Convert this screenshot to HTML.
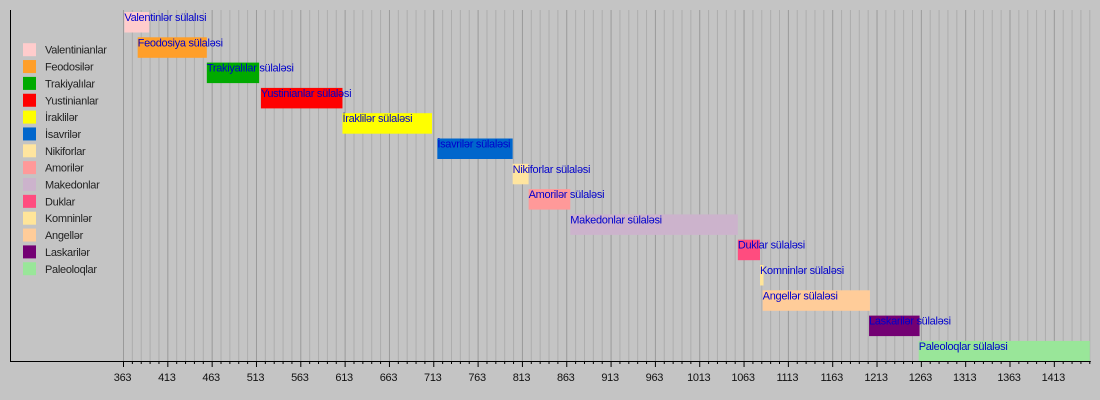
<!DOCTYPE html>
<html><head><meta charset="utf-8">
<style>
html,body{margin:0;padding:0;background:#c4c4c4;}
svg{display:block;font-family:"Liberation Sans",Arial,sans-serif;}
</style></head>
<body>
<svg id="chart" width="1100" height="400" xmlns="http://www.w3.org/2000/svg">
<rect x="0" y="0" width="1100" height="400" fill="#c4c4c4"/>
<g id="grid"></g>
<g id="bars"></g>
<g id="axis"></g>
<g id="legend"></g>
</svg>
<script>
const legendNames = ["Valentinianlar","Feodosilər","Trakiyalılar","Yustinianlar","İraklilər","İsavrilər","Nikiforlar","Amorilər","Makedonlar","Duklar","Komninlər","Angellər","Laskarilər","Paleoloqlar"];
const barLabels = ["Valentinlər sülalısi","Feodosiya sülaləsi","Trakiyalılar sülaləsi","Yustinianlar sülaləsi","İraklilər sülaləsi","İsavrilər sülaləsi","Nikiforlar sülaləsi","Amorilər sülaləsi","Makedonlar sülaləsi","Duklar sülaləsi","Komninlər sülaləsi","Angellər sülaləsi","Laskarilər sülaləsi","Paleoloqlar sülaləsi"];
const startYears = [364,379,457,518,610,717,802,820,867,1056,1081,1084,1204,1260];
const endYears = [392,457,516,610,711,802,820,867,1056,1081,1085,1205,1261,1453];
const colors = ["#ffcccc","#ff9f2a","#00aa00","#ff0000","#ffff00","#0066cc","#ffe59f","#ff9999","#ccb3cc","#ff4c7f","#ffe599","#ffcc99","#730073","#99e699"];
const tickYears = [363,413,463,513,563,613,663,713,763,813,863,913,963,1013,1063,1113,1163,1213,1263,1313,1363,1413];
const minYear = 363, maxYear = 1453;

const NS="http://www.w3.org/2000/svg";
const x0=123.5, pxPerYear=0.8865, axisY=361, rowTop=12, rowPitch=25.3, barH=20.5;
function xs(y){return x0+(y-minYear)*pxPerYear;}
function ys(i){return rowTop+i*rowPitch;}
function mk(tag,attrs,parent){const e=document.createElementNS(NS,tag);for(const k in attrs)e.setAttribute(k,attrs[k]);parent.appendChild(e);return e;}

const grid=document.getElementById('grid');
for(let yr=minYear;yr<=maxYear;yr+=10){
  const major=(yr-minYear)%50===0;
  const l=mk('line',{x1:xs(yr),x2:xs(yr),y1:10,y2:axisY,stroke:major?'#9a9a9a':'#adadad','stroke-width':1},grid);
  
  
}
const bars=document.getElementById('bars');
for(let i=0;i<startYears.length;i++){
  const r=mk('rect',{x:xs(startYears[i]),y:ys(i),width:Math.max(1,xs(endYears[i])-xs(startYears[i])),height:barH,fill:colors[i]},bars);
  
  
  const t=mk('text',{x:xs(startYears[i]),y:ys(i)+9,'font-size':'11px',fill:'#0000cc','letter-spacing':'-0.3'},bars);
  t.textContent=barLabels[i];
  
  
}
const axis=document.getElementById('axis');
let a=mk('line',{x1:10.5,x2:10.5,y1:10,y2:axisY,stroke:'#000','stroke-width':1},axis);


a=mk('line',{x1:10,x2:xs(maxYear)+1,y1:axisY+0.5,y2:axisY+0.5,stroke:'#000','stroke-width':1},axis);


for(let yr=minYear;yr<=maxYear;yr+=10){
  const major=(yr-minYear)%50===0;
  const t=mk('line',{x1:xs(yr),x2:xs(yr),y1:axisY,y2:axisY+(major?6:3),stroke:'#000','stroke-width':1},axis);
  
  
}
tickYears.forEach(yr=>{
  const t=mk('text',{x:xs(yr)-1,y:axisY+20,'font-size':'11px',fill:'#111','text-anchor':'middle','letter-spacing':'-0.3'},axis);
  t.textContent=String(yr);
  
  
});
const legend=document.getElementById('legend');
legendNames.forEach((n,i)=>{
  const cy=49.7+i*16.85;
  const s=mk('rect',{x:23,y:cy-6.5,width:13,height:13,fill:colors[i]},legend);
  
  
  const t=mk('text',{x:45,y:cy+4,'font-size':'11px',fill:'#222','letter-spacing':'-0.3'},legend);
  t.textContent=n;
  
  
});
</script>
</body></html>
